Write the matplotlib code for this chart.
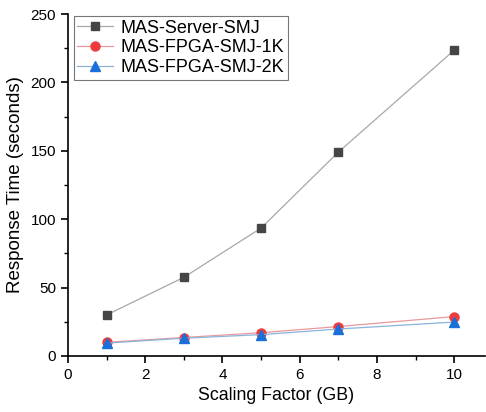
import numpy as np
import matplotlib.pyplot as plt
from matplotlib.ticker import MultipleLocator

plt.rcParams['font.family'] = ['Liberation Sans', 'DejaVu Sans']

scale = [1, 3, 5, 7, 10]
server = [30, 57.5, 93.5, 149, 223.5]
fpga_1k = [10, 13.5, 17, 21.5, 28.8]
fpga_2k = [9.4, 13, 15.6, 19.7, 24.8]

fig = plt.figure(figsize=(4.86, 4.12), dpi=100)
ax = fig.add_axes([0.14, 0.136, 0.858, 0.83])

ax.plot(scale, server, color='#a8a8a8', lw=0.9, marker='s', ms=6,
        mfc='#454545', mec='#454545', label='MAS-Server-SMJ')
ax.plot(scale, fpga_1k, color='#e89a9a', lw=0.9, marker='o', ms=6.5,
        mfc='#ee3b3b', mec='#ee3b3b', label='MAS-FPGA-SMJ-1K')
ax.plot(scale, fpga_2k, color='#8ab4dc', lw=0.9, marker='^', ms=7,
        mfc='#1a6fd8', mec='#1a6fd8', label='MAS-FPGA-SMJ-2K')

ax.set_xlim(0, 10.8)
ax.set_ylim(0, 250)
ax.xaxis.set_major_locator(MultipleLocator(2))
ax.xaxis.set_minor_locator(MultipleLocator(1))
ax.yaxis.set_major_locator(MultipleLocator(50))
ax.yaxis.set_minor_locator(MultipleLocator(25))
ax.spines['top'].set_visible(False)
ax.spines['right'].set_visible(False)
ax.spines['left'].set_linewidth(1.2)
ax.spines['bottom'].set_linewidth(1.2)
ax.tick_params(which='major', direction='out', length=5, width=1.2, labelsize=11)
ax.tick_params(which='minor', direction='out', length=3, width=1.0)

ax.set_xlabel('Scaling Factor (GB)', fontsize=12.8)
ax.set_ylabel('Response Time (seconds)', fontsize=13.5, labelpad=5)

leg = ax.legend(loc='upper left', bbox_to_anchor=(0.005, 1.005), fontsize=13,
                frameon=True, fancybox=False, edgecolor='#555555',
                handlelength=2.0, handletextpad=0.4, borderpad=0.2,
                labelspacing=0.15, borderaxespad=0.2)
leg.get_frame().set_linewidth(0.8)

fig.savefig('out.png', dpi=100)
